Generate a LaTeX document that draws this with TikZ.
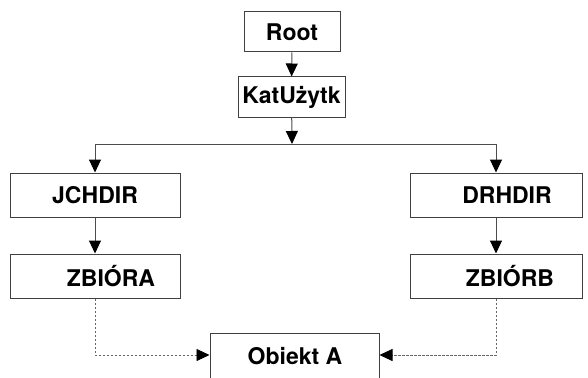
\documentclass[tikz,border=0pt]{standalone}
\usepackage{fontspec}
\setmainfont{TeX Gyre Heros}
\usepackage{tikz}
\usetikzlibrary{arrows.meta}

\tikzset{
    box/.style={draw=black!75, line width=1pt, fill=white, inner sep=0pt,
        minimum height=44pt, font=\fontsize{23}{27}\selectfont\bfseries},
    txt/.style={font=\fontsize{23}{27}\selectfont\bfseries, inner sep=0pt},
    arr/.style={draw=black!70, line width=1pt,
        -{Triangle[length=13pt,width=12pt,color=black]}},
    dasharr/.style={draw=black!60, line width=0.8pt, dash pattern=on 2.5pt off 1.5pt,
        -{Triangle[length=13pt,width=12pt,color=black]}},
}

\begin{document}
\begin{tikzpicture}[x=1pt, y=-1pt]
    \useasboundingbox (0,0) rectangle (588,377);

    % top of the tree
    \node[box, minimum width=96pt, minimum height=40pt] (root) at (292,32) {Root};
    \node[box, minimum width=107pt, minimum height=40pt] (kat) at (291.5,97) {KatUżytk};
    \coordinate (split) at (292,144);

    % left branch
    \node[box, minimum width=170pt] (jchdir) at (95,195) {};
    \node[txt] (jchdirtxt) at (95,195) {JCHDIR};
    \node[box, minimum width=170pt] (zbiora) at (95,276) {};
    \node[txt] (zbioratxt) at (111,276) {ZBIÓRA};

    % right branch
    \node[box, minimum width=172pt] (drhdir) at (496,195) {};
    \node[txt] (drhdirtxt) at (507,195) {DRHDIR};
    \node[box, minimum width=172pt] (zbiorb) at (496,276) {};
    \node[txt] (zbiorbtxt) at (510,276) {ZBIÓRB};

    % shared object (cut off at the bottom edge)
    \node[box, minimum width=169pt, minimum height=50pt] (obiekt) at (294.5,358) {};
    \node[txt] (obiekttxt) at (295,356) {Obiekt A};

    % connectors
    \draw[arr] (root) -- (kat);
    \draw[arr] (kat) -- (split);
    \draw[arr] (split) -| (jchdir);
    \draw[arr] (split) -| (drhdir);
    \draw[arr] (jchdir) -- (zbiora);
    \draw[arr] (drhdir) -- (zbiorb);

    % dashed links to the object
    \draw[dasharr] (zbiora.south) |- ([yshift=3pt]obiekt.west);
    \draw[dasharr] (zbiorb.south) |- ([yshift=3pt]obiekt.east);
\end{tikzpicture}
\end{document}
